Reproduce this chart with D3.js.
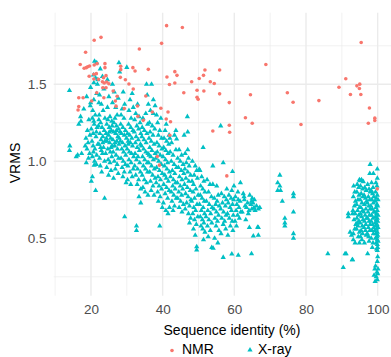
<!DOCTYPE html>
<html>
<head>
<meta charset="utf-8">
<script src="https://cdn.jsdelivr.net/npm/d3@7"></script>
<style>
  body { margin: 0; background: #fff; }
  text { font-family: "Liberation Sans", Arial, Helvetica, sans-serif; }
</style>
</head>
<body>
<div id="chart"></div>
<script>
// NMR structures: [sequence identity %, VRMS]
const nmrPoints = [
  [20.9,1.786],[22.8,1.805],[18.5,1.708],[17.0,1.629],[18.1,1.604],[18.7,1.608],[19.1,1.614],[19.6,1.619],
  [20.9,1.625],[21.7,1.634],[23.9,1.634],[23.9,1.608],[19.5,1.552],[20.8,1.565],[21.5,1.569],[20.8,1.534],
  [22.1,1.532],[23.5,1.543],[24.2,1.556],[23.2,1.517],[23.7,1.508],[24.4,1.515],[25.0,1.504],[23.3,1.478],
  [24.2,1.478],[26.2,1.456],[21.6,1.445],[16.6,1.413],[17.8,1.413],[23.6,1.413],[16.6,1.355],[16.4,1.333],
  [20.2,1.392],[27.3,1.422],[26.8,1.392],[27.0,1.358],[29.3,1.343],[33.0,1.359],[31.7,1.608],[32.3,1.586],
  [36.0,1.597],[33.5,1.729],[39.7,1.766],[41.1,1.881],[45.5,1.869],[41.2,1.547],[41.9,1.499],[43.4,1.582],
  [44.0,1.558],[43.4,1.508],[45.9,1.445],[48.1,1.517],[50.2,1.538],[51.8,1.593],[51.4,1.558],[55.9,1.593],
  [53.3,1.517],[54.4,1.505],[49.6,1.461],[51.5,1.456],[49.6,1.416],[49.9,1.403],[55.9,1.438],[58.6,1.381],
  [39.5,1.344],[41.5,1.320],[41.0,1.275],[42.2,1.257],[58.6,1.234],[54.0,1.197],[58.7,1.189],[42.0,1.169],
  [35.3,1.424],[37.1,1.320],[38.5,1.031],[39.1,0.975],[57.9,0.905],[99.9,0.821],[68.8,1.629],[64.5,1.432],
  [74.8,1.445],[76.4,1.383],[83.6,1.394],[63.1,1.283],[65.0,1.247],[78.6,1.239],[95.4,1.771],[91.1,1.536],
  [89.2,1.481],[92.4,1.434],[94.2,1.490],[95.0,1.501],[94.9,1.473],[95.3,1.434],[97.7,1.346],[99.2,1.280],
  [99.2,1.265],[97.4,1.247],[33.1,1.292],[34.6,1.266],[30.6,1.502],[29.6,1.530],[28.2,1.545],[28.3,1.617],
  [28.3,1.595],[31.8,1.469]
];

// X-ray structures, low identity band (14-36 %)
const xrayLow = [
  [14.0,1.46],[14.1,1.10],[14.0,1.07],[15.9,1.03],
  [16.6,1.24],[17.2,1.26],[17.1,1.29],[16.3,1.04],[17.4,1.05],[18.0,1.34],
  [18.8,1.42],[19.0,1.20],[19.4,1.27],[18.6,1.15],[19.2,1.12],[18.9,1.08],[19.6,1.05],[19.3,1.02],
  [18.4,1.10],[19.8,1.36],[18.7,0.99],[19.7,1.17],[19.9,1.48],
  [21.0,1.65],[21.6,1.64],[20.7,1.56],[21.3,1.54],[21.9,1.53],[20.8,1.51],[21.8,1.50],[21.6,1.44],
  [20.8,1.40],[19.9,1.38],[22.2,1.38],[20.8,1.26],[22.2,1.27],[20.1,1.21],[20.4,1.03],[21.0,1.00],
  [21.5,0.98],[20.9,0.975],[20.4,0.90],[20.1,0.87],[21.3,0.81],[20.5,1.33],[21.2,1.30],[21.7,1.22],
  [20.6,1.18],[21.4,1.16],[20.3,1.13],[21.9,1.11],[21.1,1.08],[20.7,1.06],[21.6,1.04],[20.9,1.24],
  [21.5,1.19],[20.4,1.28],[20.6,1.10],
  [22.6,1.60],[23.2,1.55],[23.6,1.47],[22.4,1.43],[22.9,1.37],[23.4,1.33],[22.3,1.30],[23.9,1.28],
  [22.7,1.25],[23.1,1.22],[23.7,1.20],[22.5,1.18],[23.3,1.16],[22.8,1.14],[23.9,1.13],[22.2,1.11],
  [23.5,1.09],[22.9,1.07],[23.2,1.05],[22.4,1.02],[23.8,1.00],[22.6,0.97],[23.8,0.76],[23.0,0.93],
  [22.1,1.23],[23.3,1.12],[22.7,1.09],
  [24.6,1.53],[26.0,1.50],[25.0,1.42],[24.6,1.35],[26.0,1.38],[25.3,1.29],[25.8,1.26],[24.4,1.24],
  [25.1,1.22],[25.7,1.20],[24.2,1.18],[24.9,1.17],[25.5,1.15],[24.5,1.13],[25.2,1.12],[25.9,1.10],
  [24.7,1.08],[25.4,1.06],[24.1,1.05],[25.8,1.03],[24.8,1.01],[25.3,0.99],[24.4,0.96],[25.6,0.94],
  [24.9,0.91],[24.7,1.27],[25.9,1.23],[24.3,1.15],[25.1,1.19],[25.6,1.09],
  [26.9,1.35],[27.8,1.64],[28.0,1.58],[26.5,1.45],[27.6,1.41],[27.3,1.30],[26.7,1.28],[26.4,1.25],
  [27.1,1.23],[27.7,1.21],[26.3,1.19],[26.9,1.18],[27.5,1.16],[26.1,1.14],[27.2,1.13],[27.8,1.11],
  [26.6,1.10],[27.4,1.08],[26.2,1.06],[27.0,1.04],[27.7,1.02],[26.5,1.00],[27.3,0.98],[26.8,0.95],
  [27.6,0.92],[26.3,0.89],[27.1,1.20],[27.9,1.15],[26.7,1.12],
  [28.7,1.34],[29.4,1.37],[29.0,1.45],[30.0,1.61],[28.4,1.30],[29.2,1.28],[28.3,1.24],[28.9,1.22],
  [29.6,1.20],[28.5,1.18],[29.3,1.17],[29.9,1.15],[28.2,1.13],[28.8,1.12],[29.5,1.10],[28.6,1.08],
  [29.1,1.06],[29.7,1.04],[28.4,1.02],[29.0,1.00],[29.6,0.98],[28.7,0.96],[29.3,0.93],[28.9,0.90],
  [29.4,0.64],[29.8,0.86],[28.1,1.19],
  [30.6,1.33],[31.8,1.35],[30.9,1.40],[31.5,1.44],[31.2,1.28],[30.5,1.24],[31.1,1.22],[31.7,1.20],
  [30.2,1.18],[30.8,1.17],[31.4,1.15],[30.4,1.13],[31.0,1.12],[31.6,1.10],[30.1,1.08],[30.7,1.06],
  [31.3,1.05],[31.9,1.03],[30.6,1.01],[31.2,0.99],[30.3,0.97],[31.8,0.95],[30.9,0.93],[31.5,0.90],
  [30.2,0.88],[31.1,0.85],[30.4,1.11],
  [33.4,1.29],[32.5,1.31],[33.0,1.37],[32.2,1.27],[33.7,1.25],[32.8,1.23],[33.3,1.21],[32.1,1.19],
  [33.9,1.18],[32.6,1.16],[33.2,1.14],[32.4,1.12],[33.8,1.11],[32.9,1.09],[33.5,1.07],[32.3,1.05],
  [33.1,1.03],[32.7,1.01],[33.6,0.99],[32.2,0.97],[33.0,0.95],[33.8,0.93],[32.5,0.91],[33.3,0.88],
  [32.9,0.85],[32.7,0.58],[32.7,0.55],[33.9,0.82],[33.4,0.77],[33.9,0.73],
  [35.5,1.50],[35.7,1.43],[36.0,1.37],[35.3,1.31],[34.5,1.28],[35.8,1.24],[34.3,1.22],[34.9,1.20],
  [35.6,1.18],[34.2,1.16],[34.8,1.14],[35.4,1.12],[34.1,1.10],[34.7,1.08],[35.3,1.06],[35.9,1.05],
  [34.4,1.03],[35.0,1.01],[35.7,0.99],[34.6,0.97],[35.2,0.95],[35.8,0.93],[34.3,0.91],[34.9,0.88],
  [35.5,0.86],[34.5,0.83],[35.1,0.80],[35.9,0.78]
];

// X-ray structures, mid identity band (36-68 %)
const xrayMid = [
  [36.9,1.50],[37.4,1.40],[37.9,1.36],[37.4,1.31],[38.3,1.30],[36.6,1.33],[36.3,1.25],[37.1,1.23],
  [37.8,1.21],[36.5,1.19],[37.3,1.17],[36.2,1.15],[36.8,1.13],[37.6,1.11],[36.4,1.09],[37.0,1.07],
  [37.9,1.05],[36.7,1.03],[37.4,1.01],[36.1,0.99],[36.9,0.97],[37.7,0.95],[36.4,0.93],[37.2,0.91],
  [37.9,0.89],[36.6,0.87],[37.3,0.84],[36.8,0.81],[37.6,0.78],[36.2,1.04],
  [39.5,1.28],[38.6,1.25],[39.2,1.20],[38.8,1.17],[39.7,1.15],[38.4,1.12],[39.0,1.10],[39.8,1.08],
  [38.5,1.06],[39.3,1.04],[38.1,1.02],[38.9,1.00],[39.6,0.98],[38.3,0.96],[39.1,0.94],[39.9,0.92],
  [38.7,0.90],[39.4,0.88],[38.2,0.86],[39.0,0.84],[39.7,0.82],[38.6,0.80],[39.3,0.77],[39.2,0.58],
  [38.8,0.74],[39.9,0.70],
  [41.0,1.24],[40.7,1.20],[41.8,1.17],[40.4,1.15],[41.1,1.13],[41.7,1.11],[40.3,1.09],[40.9,1.07],
  [41.5,1.05],[40.1,1.03],[40.8,1.01],[41.4,0.99],[40.5,0.97],[41.2,0.95],[41.9,0.93],[40.6,0.91],
  [41.0,0.89],[41.6,0.87],[40.3,0.85],[41.1,0.83],[41.8,0.81],[40.7,0.79],[41.4,0.76],[40.2,0.73],
  [41.9,0.70],[40.9,0.68],[41.5,0.66],
  [43.7,1.20],[43.3,1.17],[42.0,1.15],[43.9,1.145],[42.5,1.12],[43.7,1.075],[42.1,1.06],[42.9,1.04],
  [42.4,1.00],[43.2,0.98],[43.9,0.96],[42.7,0.94],[43.4,0.92],[42.2,0.90],[43.0,0.88],[43.6,0.86],
  [42.8,0.84],[43.5,0.82],[42.4,0.80],[43.1,0.78],[43.8,0.76],[42.6,0.74],[43.3,0.71],[42.9,0.68],
  [44.6,1.075],[46.0,1.17],[45.3,1.04],[44.2,1.02],[44.9,1.00],[45.7,0.98],[44.4,0.96],[45.2,0.94],
  [45.9,0.92],[44.7,0.90],[45.4,0.88],[44.1,0.86],[44.9,0.84],[45.6,0.82],[44.5,0.80],[45.3,0.78],
  [44.2,0.76],[45.0,0.74],[45.8,0.72],[44.6,0.70],[45.4,0.67],
  [46.9,1.29],[47.0,1.19],[47.0,1.075],[47.2,1.02],[46.3,1.05],[46.6,0.99],[47.4,0.97],[46.2,0.95],
  [47.0,0.93],[47.8,0.91],[46.5,0.89],[47.3,0.87],[46.1,0.85],[46.9,0.83],[47.7,0.81],[46.4,0.79],
  [47.1,0.77],[47.9,0.75],[46.7,0.73],[47.5,0.71],[46.3,0.69],[47.2,0.66],[47.8,0.63],[47.5,0.60],
  [48.6,0.85],[49.5,0.94],[50.2,0.948],[48.3,1.00],[49.1,0.97],[48.8,0.91],[49.7,0.89],[48.2,0.87],
  [49.3,0.82],[48.5,0.80],[49.9,0.78],[48.9,0.76],[48.1,0.74],[49.6,0.72],[48.7,0.70],[49.2,0.68],
  [48.4,0.66],[49.8,0.64],[48.9,0.62],[49.4,0.59],[48.6,0.56],[49.5,0.445],[49.5,0.424],[49.1,0.52],
  [50.4,0.94],[51.3,1.09],[50.9,0.90],[51.5,0.87],[50.6,0.84],[51.2,0.82],[51.8,0.80],[50.5,0.78],
  [51.0,0.76],[51.6,0.74],[50.3,0.72],[51.3,0.70],[50.8,0.68],[51.7,0.66],[50.5,0.64],[51.1,0.62],
  [51.5,0.60],[50.7,0.58],[51.2,0.56],[51.8,0.54],[51.4,0.49],
  [52.4,0.88],[53.2,0.85],[52.8,0.80],[53.6,0.77],[52.2,0.74],[53.0,0.72],[53.8,0.70],[52.6,0.68],
  [53.4,0.66],[52.1,0.64],[52.9,0.62],[53.7,0.60],[52.5,0.58],[53.3,0.55],[53.7,0.44],[52.7,0.51],
  [54.0,0.97],[54.0,0.85],[55.1,0.84],[55.5,0.78],[54.4,0.76],[55.2,0.74],[54.8,0.72],[55.8,0.71],
  [54.3,0.69],[55.0,0.67],[55.6,0.65],[54.6,0.63],[55.3,0.61],[54.9,0.58],[55.7,0.55],[54.1,0.435],
  [54.5,0.50],[55.4,0.47],[56.2,1.23],
  [56.9,0.99],[56.4,0.79],[57.2,0.77],[57.8,0.75],[56.7,0.73],[57.5,0.71],[56.2,0.69],[57.0,0.67],
  [57.7,0.65],[56.5,0.63],[57.3,0.61],[56.9,0.59],[57.6,0.56],[56.9,0.376],[56.3,0.53],[57.9,0.82],
  [59.5,0.933],[59.3,0.81],[58.5,0.78],[59.1,0.76],[59.8,0.75],[58.3,0.73],[59.5,0.72],[58.8,0.70],
  [59.2,0.68],[58.1,0.66],[59.7,0.65],[58.6,0.63],[59.4,0.61],[58.9,0.58],[59.6,0.55],[59.3,0.398],
  [58.2,0.52],[59.9,0.84],
  [60.3,0.77],[61.1,0.75],[61.6,0.74],[60.7,0.72],[61.3,0.70],[60.5,0.68],[61.8,0.67],[60.9,0.65],
  [61.4,0.63],[60.2,0.61],[61.1,0.39],[60.6,0.58],[61.7,0.86],[61.0,0.80],
  [62.5,0.79],[63.0,0.71],[63.4,0.70],[63.2,0.62],[62.8,0.75],[63.7,0.73],[62.2,0.67],[63.9,0.66],
  [64.2,0.57],[62.7,0.77],[64.3,0.78],[64.8,0.74],[65.2,0.73],[64.6,0.72],[65.5,0.70],[64.9,0.69],
  [65.8,0.68],[65.0,0.76],[66.2,0.71],[66.7,0.69],[67.1,0.70],[66.5,0.571],[65.3,0.515],[66.7,0.52],
  [64.8,0.40],[66.7,0.57],[65.6,0.75],[64.1,0.68]
];

// X-ray structures, high identity (70-100 %)
const xrayHigh = [
  [72.7,0.91],[72.1,0.86],[72.7,0.84],[72.1,0.81],[72.9,0.81],[73.4,0.74],[76.5,0.79],[76.5,0.77],
  [76.5,0.67],[74.1,0.63],[74.1,0.60],[74.1,0.58],[76.5,0.53],[76.5,0.50],[86.1,0.40],
  [91.8,0.66],[91.8,0.64],[93.0,0.66],[92.3,0.54],[92.7,0.52],[91.2,0.40],[90.4,0.31],[93.0,0.36],
  [90.9,0.40],[92.9,0.36],
  [93.3,0.84],[93.6,0.80],[93.2,0.77],[93.8,0.74],[93.5,0.71],[93.1,0.68],[93.7,0.66],[93.4,0.62],
  [93.9,0.59],[93.6,0.56],[93.2,0.53],[93.7,0.47],[93.2,0.49],
  [94.9,0.88],[94.3,0.85],[94.7,0.83],[94.2,0.80],[94.8,0.78],[94.5,0.75],[94.1,0.72],[94.9,0.70],
  [94.4,0.68],[94.7,0.65],[94.2,0.63],[94.8,0.61],[94.5,0.58],[94.1,0.56],[94.9,0.54],[94.6,0.51],
  [94.9,0.47],[94.3,0.60],
  [95.5,0.88],[95.1,0.874],[95.2,0.84],[95.8,0.82],[95.4,0.79],[95.9,0.77],[95.1,0.75],[95.6,0.73],
  [95.3,0.70],[95.8,0.68],[95.2,0.66],[95.5,0.64],[95.9,0.62],[95.1,0.60],[95.7,0.58],[95.4,0.55],
  [95.8,0.53],[95.2,0.51],[95.6,0.49],
  [96.0,0.868],[96.4,0.83],[96.8,0.81],[96.2,0.78],[96.6,0.76],[96.9,0.74],[96.3,0.72],[96.7,0.69],
  [96.1,0.67],[96.5,0.65],[96.9,0.63],[96.3,0.61],[96.7,0.59],[96.2,0.57],[96.6,0.55],[96.3,0.47],
  [96.8,0.52],
  [97.2,0.85],[97.6,0.82],[97.9,0.80],[97.4,0.77],[97.8,0.75],[97.1,0.73],[97.5,0.71],[97.9,0.69],
  [97.3,0.67],[97.7,0.65],[97.2,0.63],[97.6,0.61],[97.9,0.59],[97.4,0.57],[97.8,0.55],[97.1,0.53],
  [97.5,0.51],[97.2,0.40],[97.8,0.92],[97.9,0.98],[97.6,0.48],
  [98.8,0.92],[98.3,0.86],[98.7,0.83],[98.2,0.81],[98.6,0.79],[98.9,0.77],[98.4,0.75],[98.8,0.73],
  [98.1,0.71],[98.5,0.69],[98.9,0.67],[98.3,0.65],[98.7,0.63],[98.2,0.61],[98.6,0.59],[98.9,0.57],
  [98.4,0.55],[98.8,0.53],[98.5,0.44],[98.2,0.50],[98.7,0.47],
  [99.9,0.95],[99.9,0.89],[99.5,0.86],[99.8,0.84],[99.4,0.80],[99.9,0.78],[99.6,0.76],[100.1,0.75],
  [99.3,0.74],[99.8,0.72],[100.0,0.71],[99.5,0.70],[99.9,0.68],[99.2,0.67],[99.7,0.66],[100.1,0.65],
  [99.4,0.64],[99.9,0.63],[99.6,0.62],[100.0,0.61],[99.3,0.60],[99.8,0.59],[99.5,0.58],[100.1,0.57],
  [99.7,0.56],[99.2,0.55],[99.9,0.54],[99.5,0.53],[100.0,0.52],[99.8,0.51],[99.4,0.50],[99.9,0.49],
  [100.1,0.48],[99.6,0.47],[99.9,0.46],[100.0,0.44],[99.9,0.42],[99.7,0.43],[100.0,0.38],[99.9,0.35],
  [99.4,0.32],[100.1,0.30],[99.8,0.28],[99.0,0.26],[99.6,0.25],[99.9,0.23],[99.3,0.22],[100.0,0.27],
  [99.2,0.30]
];

const xTicks = [20, 40, 60, 80, 100];
const xMinorTicks = [10, 30, 50, 70, 90];
const yTicks = [0.5, 1.0, 1.5];
const yMinorTicks = [0.25, 0.75, 1.25, 1.75];
const legendLabels = ['NMR', 'X-ray'];

const width = 391, height = 357;
const panel = { left: 53.7, right: 393.8, top: 12.7, bottom: 295.7 };
const colors = { NMR: '#F8766D', 'X-ray': '#00BFC4' };

const svg = d3.select('#chart').append('svg')
    .attr('width', width)
    .attr('height', height);

const x = d3.scaleLinear().domain([9.6, 104.5]).range([panel.left, panel.right]);
const y = d3.scaleLinear().domain([0.127, 1.965]).range([panel.bottom, panel.top]);

// grid (minor first, then major)
const grid = svg.append('g').attr('class', 'grid');
grid.selectAll('.xminor').data(xMinorTicks).join('line')
    .attr('x1', d => x(d)).attr('x2', d => x(d))
    .attr('y1', panel.top).attr('y2', panel.bottom)
    .attr('stroke', '#EBEBEB').attr('stroke-width', 0.7);
grid.selectAll('.yminor').data(yMinorTicks).join('line')
    .attr('x1', panel.left).attr('x2', panel.right)
    .attr('y1', d => y(d)).attr('y2', d => y(d))
    .attr('stroke', '#EBEBEB').attr('stroke-width', 0.7);
grid.selectAll('.xmajor').data(xTicks).join('line')
    .attr('x1', d => x(d)).attr('x2', d => x(d))
    .attr('y1', panel.top).attr('y2', panel.bottom)
    .attr('stroke', '#EBEBEB').attr('stroke-width', 1.4);
grid.selectAll('.ymajor').data(yTicks).join('line')
    .attr('x1', panel.left).attr('x2', panel.right)
    .attr('y1', d => y(d)).attr('y2', d => y(d))
    .attr('stroke', '#EBEBEB').attr('stroke-width', 1.4);

// axes labels only
const xAxis = svg.append('g')
    .attr('transform', `translate(0, ${panel.bottom})`)
    .call(d3.axisBottom(x).tickValues(xTicks).tickSize(0).tickPadding(8.3).tickFormat(d3.format('d')));
const yAxis = svg.append('g')
    .attr('transform', `translate(${panel.left}, 0)`)
    .call(d3.axisLeft(y).tickValues(yTicks).tickSize(0).tickPadding(7.2).tickFormat(d3.format('.1f')));
[xAxis, yAxis].forEach(a => {
    a.select('.domain').remove();
    a.selectAll('text')
        .attr('fill', '#4D4D4D')
        .style('font-size', '13.5px')
        .style('font-family', '"Liberation Sans", Arial, Helvetica, sans-serif');
});

// points
const tri = d3.symbol().type(d3.symbolTriangle).size(12);
const xray = xrayLow.concat(xrayMid, xrayHigh);
svg.append('g').selectAll('path').data(xray).join('path')
    .attr('d', tri)
    .attr('transform', d => `translate(${x(d[0])}, ${y(d[1])})`)
    .attr('fill', colors['X-ray']);

svg.append('g').selectAll('circle').data(nmrPoints).join('circle')
    .attr('cx', d => x(d[0]))
    .attr('cy', d => y(d[1]))
    .attr('r', 1.8)
    .attr('fill', colors.NMR);

// axis titles
svg.append('text')
    .attr('x', 232).attr('y', 334.5)
    .attr('text-anchor', 'middle')
    .style('font-size', '14px')
    .text('Sequence identity (%)');
svg.append('text')
    .attr('transform', `translate(19.5, 163) rotate(-90)`)
    .attr('text-anchor', 'middle')
    .style('font-size', '14px')
    .text('VRMS');

// legend (sits at the bottom edge, as in the original)
const legend = svg.append('g');
const legendX = [172, 250];
legendLabels.forEach((name, i) => {
    if (name === 'NMR') {
        legend.append('circle').attr('cx', legendX[i]).attr('cy', 350.5).attr('r', 1.8).attr('fill', colors[name]);
    } else {
        legend.append('path').attr('d', tri).attr('transform', `translate(${legendX[i]}, 350)`).attr('fill', colors[name]);
    }
    legend.append('text')
        .attr('x', legendX[i] + (i === 0 ? 10 : 8))
        .attr('y', 354)
        .style('font-size', '14px')
        .text(name);
});
</script>
</body>
</html>
